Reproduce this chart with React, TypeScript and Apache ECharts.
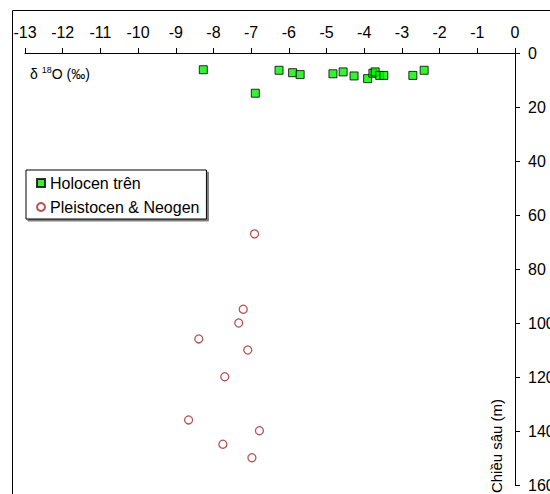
import React, { useEffect, useRef } from "react";
import * as echarts from "echarts";

// δ18O (‰) and depth (m) — Holocen trên
const holoceneD18O = [-8.27, -6.26, -5.9, -5.7, -4.83, -4.56, -4.27, -3.91, -3.77, -3.71, -3.59, -3.48, -2.71, -2.41, -6.89];
const holoceneDepth = [6.2, 6.4, 7.3, 8.0, 7.7, 7.0, 8.5, 9.5, 7.5, 7.0, 8.3, 8.3, 8.3, 6.4, 14.9];

// Pleistocen & Neogen
const pleistoD18O = [-6.91, -7.21, -7.33, -8.39, -7.09, -7.7, -8.66, -6.78, -7.75, -6.98];
const pleistoDepth = [67, 94.9, 100, 105.9, 110, 119.9, 135.9, 139.9, 144.9, 149.9];

const seriesNames = ["Holocen trên", "Pleistocen & Neogen"];
const xRange = [-13, 0];
const depthRange = [0, 160];

const FONT = "'Liberation Sans', Arial, sans-serif";

export default function App() {
  const ref = useRef<HTMLDivElement>(null);
  useEffect(() => {
    if (!ref.current) return;
    const chart = echarts.init(ref.current, null, { renderer: "svg" });
    const holo = holoceneD18O.map((v, i) => [v, holoceneDepth[i]]);
    const pleisto = pleistoD18O.map((v, i) => [v, pleistoDepth[i]]);
    chart.setOption({
      animation: false,
      backgroundColor: "#ffffff",
      textStyle: { fontFamily: FONT },
      grid: {
        left: 25,
        top: 53,
        width: 490,
        height: 432,
        containLabel: false,
        outerBoundsMode: "none",
      },
      xAxis: {
        type: "value",
        position: "top",
        min: xRange[0],
        max: xRange[1],
        interval: 1,
        axisLine: { show: true, lineStyle: { color: "#000", width: 1 } },
        axisTick: { show: true, inside: false, length: 5, lineStyle: { color: "#000" } },
        axisLabel: { color: "#000", fontSize: 16, fontFamily: FONT, margin: 13 },
        splitLine: { show: false },
      },
      yAxis: {
        type: "value",
        position: "right",
        inverse: true,
        min: depthRange[0],
        max: depthRange[1],
        interval: 20,
        axisLine: { show: true, lineStyle: { color: "#000", width: 1 } },
        axisTick: { show: true, inside: false, length: 5, lineStyle: { color: "#000" } },
        axisLabel: { color: "#000", fontSize: 16, fontFamily: FONT, margin: 13 },
        splitLine: { show: false },
      },
      legend: {
        orient: "vertical",
        left: 26,
        top: 170,
        padding: [5, 7, 4, 10],
        itemGap: 8,
        itemWidth: 8,
        itemHeight: 8,
        backgroundColor: "#fff",
        borderColor: "#000",
        borderWidth: 1,
        shadowColor: "rgba(0,0,0,0.5)",
        shadowBlur: 1,
        shadowOffsetX: 2,
        shadowOffsetY: 2,
        textStyle: { color: "#000", fontSize: 16, fontFamily: FONT },
        data: seriesNames,
      },
      series: [
        {
          name: seriesNames[0],
          type: "scatter",
          symbol: "rect",
          symbolSize: 8,
          itemStyle: { color: "#00f000", borderColor: "#000", borderWidth: 1 },
          data: holo,
          z: 3,
        },
        {
          name: seriesNames[1],
          type: "scatter",
          symbol: "circle",
          symbolSize: 8,
          itemStyle: { color: "#fff", borderColor: "#a3282b", borderWidth: 1.3 },
          data: pleisto,
          z: 2,
        },
      ],
      graphic: [
        {
          type: "rect",
          shape: { x: 12.5, y: 10.5, width: 700, height: 700 },
          style: { fill: "none", stroke: "#000", lineWidth: 1 },
          z: 0,
          silent: true,
        },
        {
          type: "text",
          x: 30,
          y: 74,
          style: {
            text: "{a|δ }{s|18}{a|O (‰)}",
            textVerticalAlign: "middle",
            rich: {
              a: { fontSize: 14, fontFamily: FONT, fill: "#000", color: "#000" },
              s: { fontSize: 9, fontFamily: FONT, fill: "#000", color: "#000", verticalAlign: "top", padding: [0, 0, 8, 0] },
            },
          },
        },
        {
          type: "text",
          x: 496,
          y: 446,
          rotation: Math.PI / 2,
          style: {
            text: "Chiều sâu (m)",
            fontSize: 15,
            fontFamily: FONT,
            fill: "#000",
            textAlign: "center",
            textVerticalAlign: "middle",
          },
        },
      ],
    });
    return () => chart.dispose();
  }, []);
  return (
    <div
      ref={ref}
      style={{ position: "fixed", left: 0, top: 0, width: 550, height: 494 }}
    />
  );
}
